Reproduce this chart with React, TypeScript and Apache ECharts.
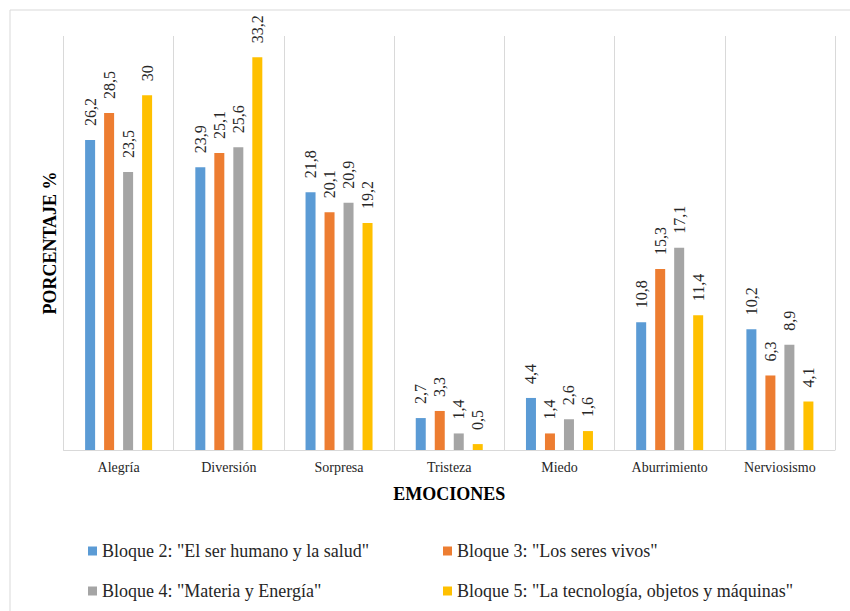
import React, { useEffect, useRef } from "react";
import * as echarts from "echarts";

const categories = ["Alegría", "Diversión", "Sorpresa", "Tristeza", "Miedo", "Aburrimiento", "Nerviosismo"];
const seriesNames = [
  'Bloque 2: "El ser humano y la salud"',
  'Bloque 3: "Los seres vivos"',
  'Bloque 4: "Materia y Energía"',
  'Bloque 5: "La tecnología, objetos y máquinas"',
];
const bloque2 = [26.2, 23.9, 21.8, 2.7, 4.4, 10.8, 10.2];
const bloque3 = [28.5, 25.1, 20.1, 3.3, 1.4, 15.3, 6.3];
const bloque4 = [23.5, 25.6, 20.9, 1.4, 2.6, 17.1, 8.9];
const bloque5 = [30, 33.2, 19.2, 0.5, 1.6, 11.4, 4.1];
const colors = ["#5B9BD5", "#ED7D31", "#A5A5A5", "#FFC000"];

const FONT = "'Liberation Serif', 'Times New Roman', serif";
const TEXT = "#262626";

export default function App() {
  const ref = useRef<HTMLDivElement>(null);
  useEffect(() => {
    if (!ref.current) return;
    const chart = echarts.init(ref.current, undefined, { renderer: "svg" });
    const values = [bloque2, bloque3, bloque4, bloque5];
    const legendBase = {
      orient: "vertical",
      icon: "rect",
      itemWidth: 9,
      itemHeight: 9,
      itemGap: 22,
      textStyle: { fontFamily: FONT, fontSize: 18, color: TEXT },
      selectedMode: false,
    };
    chart.setOption({
      animation: false,
      color: colors,
      textStyle: { fontFamily: FONT },
      grid: { left: 63.5, right: 15, top: 36, bottom: 161 },
      legend: [
        { ...legendBase, left: 83, top: 537, data: [seriesNames[0], seriesNames[2]] },
        { ...legendBase, left: 438, top: 537, data: [seriesNames[1], seriesNames[3]] },
      ],
      graphic: [
        {
          type: "rect",
          shape: { x: 10, y: 10, width: 880, height: 640 },
          style: { fill: "none", stroke: "#d9d9d9", lineWidth: 1 },
          silent: true,
        },
        {
          type: "text",
          x: 50,
          y: 243,
          rotation: Math.PI / 2,
          style: {
            text: "PORCENTAJE %",
            fontFamily: FONT,
            fontSize: 18,
            fontWeight: "bold",
            fill: "#000",
            align: "center",
            verticalAlign: "middle",
          },
        },
      ],
      xAxis: {
        type: "category",
        data: categories,
        name: "EMOCIONES",
        nameLocation: "middle",
        nameGap: 35,
        nameTextStyle: { fontFamily: FONT, fontSize: 18, fontWeight: "bold", color: "#000" },
        axisLine: { lineStyle: { color: "#d9d9d9", width: 1 } },
        axisTick: { show: false },
        axisLabel: { fontFamily: FONT, fontSize: 14, color: TEXT, margin: 10, interval: 0 },
        splitLine: { show: true, interval: 0, lineStyle: { color: "#d9d9d9", width: 1 } },
      },
      yAxis: {
        type: "value",
        min: 0,
        max: 35,
        show: true,
        axisLine: { show: false },
        axisTick: { show: false },
        axisLabel: { show: false },
        splitLine: { show: false },
      },
      series: values.map((v, i) => ({
        type: "bar",
        name: seriesNames[i],
        data: v,
        barWidth: 10,
        barGap: "90%",
        itemStyle: { color: colors[i] },
        label: {
          show: true,
          position: "top",
          rotate: 90,
          align: "left",
          verticalAlign: "middle",
          distance: 14,
          fontFamily: FONT,
          fontSize: 16,
          color: TEXT,
          formatter: (p: any) => String(p.value).replace(".", ","),
        },
      })),
    });
    return () => chart.dispose();
  }, []);
  return (
    <div
      ref={ref}
      style={{ position: "fixed", left: 0, top: 0, width: 850, height: 611, background: "#fff" }}
    />
  );
}
